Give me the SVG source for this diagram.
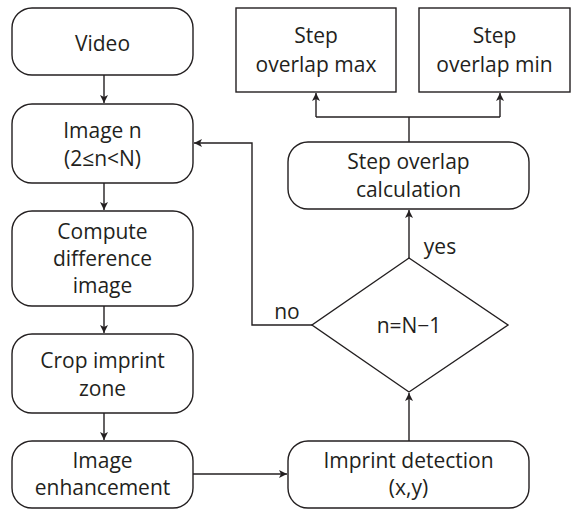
<svg xmlns="http://www.w3.org/2000/svg" width="571" height="510" viewBox="0 0 571 510">
<style>
.n{fill:#fff;stroke:#231f20;stroke-width:1.4}
.c{fill:none;stroke:#231f20;stroke-width:1.4}
text{font-family:"Open Sans","Liberation Sans",sans-serif;font-size:21px;fill:#231f20;text-anchor:middle}
</style>
<defs>
<marker id="a" viewBox="0 0 10 10" refX="10" refY="5" markerWidth="8" markerHeight="8" markerUnits="userSpaceOnUse" orient="auto">
<path d="M0,0 L10,5 L0,10 L2.5,5 Z" fill="#231f20"/>
</marker>
</defs>
<g id="connectors">
<line class="c" x1="104" y1="75" x2="104" y2="103" marker-end="url(#a)"/>
<line class="c" x1="104" y1="183" x2="104" y2="210" marker-end="url(#a)"/>
<line class="c" x1="104" y1="306" x2="104" y2="333" marker-end="url(#a)"/>
<line class="c" x1="104" y1="413" x2="104" y2="440" marker-end="url(#a)"/>
<line class="c" x1="193" y1="474" x2="287" y2="474" marker-end="url(#a)"/>
<line class="c" x1="409" y1="441" x2="409" y2="393" marker-end="url(#a)"/>
<line class="c" x1="409" y1="258" x2="409" y2="210" marker-end="url(#a)"/>
<polyline class="c" points="312,325 252,325 252,143 194,143" marker-end="url(#a)"/>
<line class="c" x1="409" y1="142" x2="409" y2="117"/>
<polyline class="c" points="316,117 500,117"/>
<line class="c" x1="316" y1="117" x2="316" y2="93" marker-end="url(#a)"/>
<line class="c" x1="500" y1="117" x2="500" y2="93" marker-end="url(#a)"/>
<text x="287" y="319">no</text>
<text x="440" y="254">yes</text>
</g>
<g id="video"><rect class="n" x="12" y="8" width="181" height="67" rx="20"/><text x="102.5" y="51">Video</text></g>
<g id="image-n"><rect class="n" x="12" y="104" width="181" height="79" rx="20"/><text x="102.5" y="138">Image n</text><text x="102.5" y="166">(2≤n&lt;N)</text></g>
<g id="compute"><rect class="n" x="12" y="211" width="181" height="95" rx="20"/><text x="102.5" y="239">Compute</text><text x="102.5" y="266">difference</text><text x="102.5" y="293">image</text></g>
<g id="crop"><rect class="n" x="12" y="334" width="181" height="79" rx="20"/><text x="102.5" y="368">Crop imprint</text><text x="102.5" y="396">zone</text></g>
<g id="enhance"><rect class="n" x="12" y="441" width="181" height="67" rx="20"/><text x="102.5" y="468">Image</text><text x="102.5" y="495">enhancement</text></g>
<g id="detect"><rect class="n" x="288" y="441" width="241" height="67" rx="20"/><text x="408.5" y="468">Imprint detection</text><text x="408.5" y="495">(x,y)</text></g>
<g id="decision"><polygon class="n" points="409,258 508,325 409,392 312,325"/><text x="409" y="333">n=N−1</text></g>
<g id="calc"><rect class="n" x="288" y="142" width="241" height="67" rx="20"/><text x="408.5" y="169">Step overlap</text><text x="408.5" y="197">calculation</text></g>
<g id="max"><rect class="n" x="236" y="8" width="160" height="84"/><text x="316" y="43">Step</text><text x="316" y="72">overlap max</text></g>
<g id="min"><rect class="n" x="419" y="8" width="151" height="84"/><text x="494.5" y="43">Step</text><text x="494.5" y="72">overlap min</text></g>
</svg>
